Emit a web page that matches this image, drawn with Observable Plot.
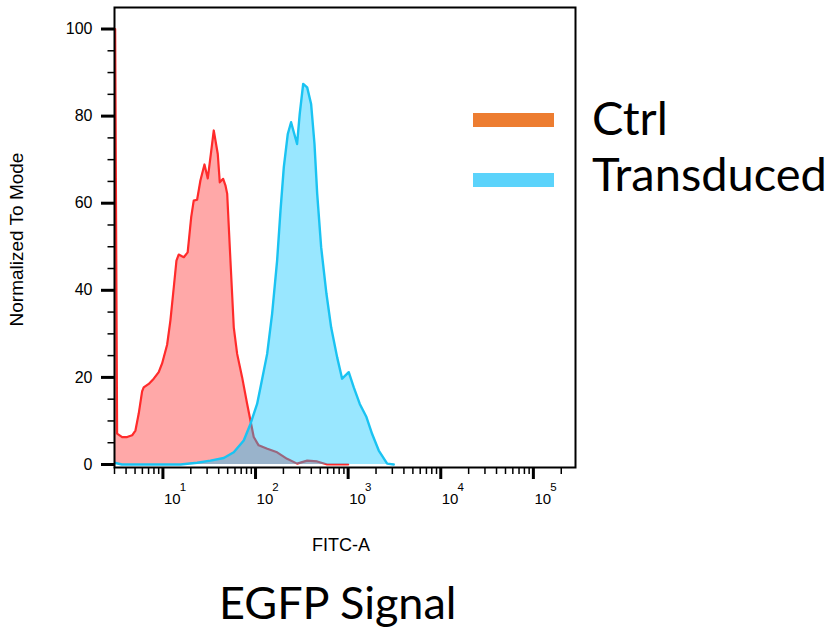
<!DOCTYPE html>
<html><head><meta charset="utf-8">
<script src="https://cdn.jsdelivr.net/npm/d3@7"></script>
<script src="https://cdn.jsdelivr.net/npm/@observablehq/plot@0.6"></script>
<style>
body{margin:0;background:#fff;}
#wrap{position:relative;width:834px;height:634px;overflow:hidden;background:#fff;}
#wrap svg{position:absolute;left:0;top:0;}
.big{position:absolute;font-family:Lato,"Open Sans",sans-serif;line-height:1;white-space:nowrap;color:#000;}
.bar{position:absolute;height:14px;width:81px;}
</style></head><body><div id="wrap"></div>
<script>
// Ctrl (red) histogram: FITC-A value vs. normalized to mode
const ctrlX = [3.0, 3.05, 3.2, 3.63, 4.11, 4.65, 5.05, 5.48, 5.96, 6.2, 7.03, 7.96, 9.01, 9.8, 11.1, 12.05, 13.1, 14.0, 14.8, 16.8, 18.5, 20.2, 21.5, 23.4, 25.4, 28.1, 30.5, 32.6, 35.4, 39.1, 41.1, 44.7, 47.3, 49.4, 53.6, 58.2, 63.3, 71.7, 81.2, 88.1, 95.6, 108, 134, 171, 219, 281, 361, 463, 593, 826, 1000];
const ctrlY = [100, 100, 7.1, 6.3, 6.3, 6.7, 7.8, 11.7, 16.8, 17.7, 18.5, 19.7, 21.2, 23.2, 27.5, 33.1, 40.7, 46.8, 48.2, 47.6, 48.7, 56.8, 60.6, 60.8, 65.2, 68.9, 65.7, 70.6, 76.7, 71.3, 64.8, 65.6, 64.1, 62.2, 46.8, 31.5, 25.4, 20.0, 13.9, 10.1, 6.3, 4.4, 3.6, 2.8, 1.3, 0.2, 0.9, 0.7, 0, 0, 0];
// Transduced (blue) histogram
const transX = [3.0, 3.6, 15.5, 23.4, 32.6, 45.4, 58.2, 74.6, 88.1, 104, 113, 133.5, 151, 171, 186, 202, 223, 242, 259, 281, 300, 327, 361, 398, 433, 463, 511, 583, 655, 761, 861, 1015, 1150, 1335, 1576, 1816, 2141, 2638, 3108];
const transY = [0.4, 0, 0, 0.4, 0.9, 1.5, 2.8, 5.5, 9.3, 13.9, 17.7, 25.4, 34.6, 46.8, 58.3, 68.3, 75.9, 78.6, 76.3, 73.6, 80.5, 87.4, 86.6, 82.8, 73.6, 62.2, 49.9, 39.2, 31.5, 24.6, 19.7, 21.2, 17.7, 13.9, 10.9, 7.0, 3.2, 0.2, 0];

const yMajorTicks = [0, 20, 40, 60, 80, 100];
const yMinorTicks = [5, 10, 15, 25, 30, 35, 45, 50, 55, 65, 70, 75, 85, 90, 95];
const xDecades = [10, 100, 1000, 10000, 100000];
const xExponents = ["1", "2", "3", "4", "5"];
const xMinorTicks = [3, 4, 5, 6, 7, 8, 9, 20, 30, 40, 50, 60, 70, 80, 90, 200, 300, 400, 500, 600, 700, 800, 900,
  2000, 3000, 4000, 5000, 6000, 7000, 8000, 9000, 20000, 30000, 40000, 50000, 60000, 70000, 80000, 90000, 200000];

const seriesNames = ["Ctrl", "Transduced"];
const legendColors = ["#ED7D31", "#5BD3FB"];
const xTitle = "FITC-A";
const yTitle = "Normalized To Mode";
const caption = "EGFP Signal";

const ctrl = ctrlX.map((x, i) => ({x, y: ctrlY[i]}));
const trans = transX.map((x, i) => ({x, y: transY[i]}));

const font = "'Liberation Sans', Arial, sans-serif";
const chart = Plot.plot({
  width: 834, height: 560,
  marginLeft: 114, marginRight: 259, marginTop: 7, marginBottom: 93,
  style: {fontFamily: font, background: "white", overflow: "visible", color: "black"},
  x: {type: "log", domain: [3, 285000]},
  y: {domain: [-0.69, 104.94]},
  marks: [
    Plot.areaY(ctrl, {x: "x", y: "y", fill: "#ff0000", fillOpacity: 0.34, clip: true}),
    Plot.lineY(ctrl, {x: "x", y: "y", stroke: "#ff2b2b", strokeWidth: 2.2, clip: true}),
    Plot.areaY(trans, {x: "x", y: "y", fill: "#00c3ff", fillOpacity: 0.4, clip: true}),
    Plot.lineY(trans, {x: "x", y: "y", stroke: "#1ac3f2", strokeWidth: 2.4, clip: true}),
    Plot.frame({stroke: "black", strokeWidth: 2}),
    Plot.axisY(yMajorTicks, {anchor: "left", tickSize: 13, strokeWidth: 3, tickPadding: 9, fontSize: 16, tickFormat: d => String(d), label: null}),
    Plot.axisY(yMinorTicks, {anchor: "left", tickSize: 6.5, strokeWidth: 1.5, fill: "none", label: null}),
    Plot.axisX(xDecades, {anchor: "bottom", tickSize: 12, strokeWidth: 3, fill: "none", label: null}),
    Plot.axisX(xMinorTicks, {anchor: "bottom", tickSize: 7, strokeWidth: 1.5, fill: "none", label: null}),
    Plot.text(xDecades, {x: d => d, text: () => "10", frameAnchor: "bottom", dy: 32, dx: 1, textAnchor: "start", fontSize: 15, lineAnchor: "middle"}),
    Plot.text(xDecades, {x: d => d, text: (d, i) => xExponents[i], frameAnchor: "bottom", dy: 19.5, dx: 16.8, textAnchor: "start", fontSize: 11.5, lineAnchor: "middle"}),
    Plot.text([yTitle], {text: d => d, frameAnchor: "left", rotate: -90, dx: -98, dy: 2, fontSize: 19, textAnchor: "middle", lineAnchor: "middle"}),
    Plot.text([xTitle], {text: d => d, frameAnchor: "bottom", dy: 78, dx: -4, fontSize: 18, textAnchor: "middle", lineAnchor: "middle"})
  ]
});
const wrap = document.getElementById("wrap");
wrap.appendChild(chart);

const legendTops = [94, 150];
const barTops = [113, 173];
seriesNames.forEach((name, i) => {
  const bar = document.createElement("div");
  bar.className = "bar";
  bar.style.left = "473px";
  bar.style.top = barTops[i] + "px";
  bar.style.background = legendColors[i];
  wrap.appendChild(bar);
  const t = document.createElement("div");
  t.className = "big";
  t.style.left = "592px";
  t.style.top = legendTops[i] + "px";
  t.style.fontSize = "47px";
  t.textContent = name;
  wrap.appendChild(t);
});
const cap = document.createElement("div");
cap.className = "big";
cap.style.left = "219px";
cap.style.top = "580px";
cap.style.fontSize = "45px";
cap.textContent = caption;
wrap.appendChild(cap);
</script></body></html>
